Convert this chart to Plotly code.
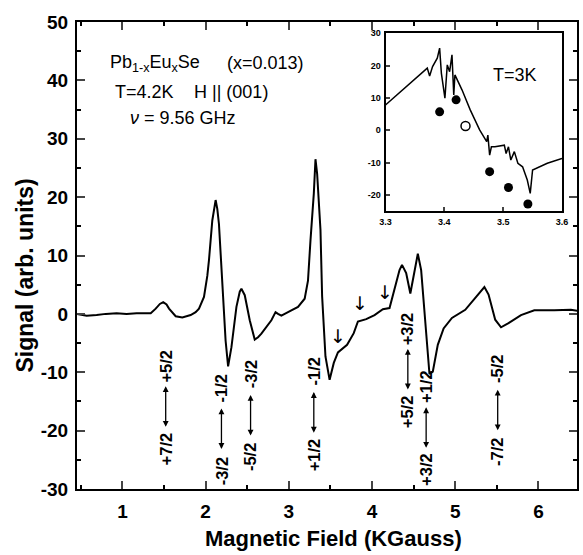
import plotly.graph_objects as go

# Main EPR spectrum (field in kG, signal arb. units)
field = [0.45, 0.57, 0.69, 0.80, 0.93, 1.05, 1.17, 1.34, 1.40, 1.45, 1.49, 1.53, 1.56, 1.60,
         1.64, 1.72, 1.82, 1.88, 1.92, 1.98, 2.02, 2.04, 2.08, 2.12, 2.14, 2.16, 2.20, 2.24,
         2.27, 2.31, 2.37, 2.41, 2.43, 2.47, 2.53, 2.59, 2.63, 2.67, 2.79, 2.84, 2.87, 2.91,
         2.99, 3.11, 3.19, 3.23, 3.26, 3.30, 3.32, 3.34, 3.38, 3.40, 3.44, 3.49, 3.54, 3.59,
         3.70, 3.78, 3.83, 3.93, 4.03, 4.13, 4.21, 4.27, 4.33, 4.36, 4.41, 4.46, 4.51, 4.55,
         4.59, 4.63, 4.67, 4.69, 4.73, 4.79, 4.86, 4.96, 5.12, 5.24, 5.35, 5.40, 5.48, 5.55,
         5.64, 5.79, 5.95, 6.19, 6.39, 6.47]
signal = [0.0, -0.3, -0.2, 0.0, 0.1, 0.0, 0.1, 0.1, 0.9, 1.7, 2.0, 1.6, 0.9, 0.2,
          -0.4, -0.6, -0.2, 0.3, 0.9, 2.9, 6.5, 9.2, 16.0, 19.5, 18.0, 15.4, 5.7, -4.6,
          -9.0, -5.7, 1.2, 3.8, 4.3, 3.2, -1.1, -4.4, -4.0, -3.4, -1.1, 0.3, 0.0, -0.3,
          0.3, 1.2, 2.6, 5.7, 12.6, 20.6, 26.5, 24.0, 14.4, 3.0, -7.3, -11.3, -8.4, -6.6,
          -5.3, -3.3, -1.3, -0.9, -0.2, 0.8, 1.0, 4.1, 7.5, 8.4, 7.0, 3.5, 7.0, 10.3,
          7.5, 0.1, -7.3, -10.3, -9.9, -5.3, -2.5, -0.7, 0.7, 2.7, 4.6, 3.3, -1.0, -2.3,
          -1.6, -0.2, 0.6, 0.6, 0.7, 0.5]

# Inset (T=3K) curve
inset_field = [3.300, 3.371, 3.375, 3.380, 3.388, 3.392, 3.395, 3.401, 3.405, 3.409, 3.413,
               3.416, 3.418, 3.430, 3.444, 3.460, 3.472, 3.474, 3.477, 3.480, 3.486, 3.502,
               3.505, 3.509, 3.513, 3.519, 3.525, 3.533, 3.541, 3.546, 3.550, 3.575, 3.600]
inset_signal = [7.8, 19.2, 16.8, 19.7, 22.3, 25.4, 17.6, 9.9, 20.2, 18.1, 23.3,
                10.9, 17.1, 12.5, 6.3, 0.1, -3.5, -1.5, -7.7, -5.1, -5.1, -4.6,
                -7.2, -5.1, -9.2, -6.6, -10.2, -11.3, -15.4, -19.5, -12.3, -10.2, -8.7]
filled_x = [3.392, 3.420, 3.477, 3.509, 3.542]
filled_y = [5.7, 9.4, -12.8, -17.7, -22.8]
open_x = [3.436]
open_y = [1.3]

# Transition labels (centre field, centre signal level, lower / upper level)
trans_x = [1.52, 2.19, 2.54, 3.30, 4.43, 4.65, 5.51]
trans_y = [-16.0, -19.8, -17.5, -17.0, -9.6, -19.6, -16.6]
trans_lo = ["+7/2", "-3/2", "-5/2", "+1/2", "+5/2", "+3/2", "-7/2"]
trans_hi = ["+5/2", "-1/2", "-3/2", "-1/2", "+3/2", "+1/2", "-5/2"]

# Small down arrows
arrow_x = [3.59, 3.85, 4.15]
arrow_y = [-3.8, 1.8, 3.7]

xticks = [1, 2, 3, 4, 5, 6]
yticks = [-30, -20, -10, 0, 10, 20, 30, 40, 50]
ytick_text = ["-30", "-20", "-10", "0", "10", "20", "30", "40", "50"]
inset_xticks = [3.3, 3.4, 3.5, 3.6]
inset_xtick_text = ["3.3", "3.4", "3.5", "3.6"]
inset_yticks = [-20, -10, 0, 10, 20, 30]
inset_ytick_text = ["-20", "-10", "0", "10", "20", "30"]

FONT = "Liberation Sans, Arial, Helvetica, sans-serif"
HALF_ARROW = 3.6   # half length of double arrow, in signal units
TEXT_OFF = 7.1     # offset of level labels from the centre, in signal units

fig = go.Figure()
fig.add_trace(go.Scatter(x=field, y=signal, mode="lines",
                         line=dict(color="black", width=2), showlegend=False))
fig.add_trace(go.Scatter(x=inset_field, y=inset_signal, mode="lines", xaxis="x2", yaxis="y2",
                         line=dict(color="black", width=1.5), showlegend=False))
fig.add_trace(go.Scatter(x=filled_x, y=filled_y, mode="markers", xaxis="x2", yaxis="y2",
                         marker=dict(color="black", size=9), showlegend=False))
fig.add_trace(go.Scatter(x=open_x, y=open_y, mode="markers", xaxis="x2", yaxis="y2",
                         marker=dict(color="white", size=9, line=dict(color="black", width=1.5)),
                         showlegend=False))

lab_font = dict(family=FONT, size=16.5, color="black", weight="bold")
annotations = []
for x, y, lo, hi in zip(trans_x, trans_y, trans_lo, trans_hi):
    annotations.append(dict(x=x, y=y + HALF_ARROW, xref="x", yref="y",
                            ax=x, ay=y - HALF_ARROW, axref="x", ayref="y",
                            text="", showarrow=True, arrowside="end+start",
                            arrowhead=2, arrowsize=0.9, arrowwidth=1.3, arrowcolor="black",
                            standoff=0, startstandoff=0))
    annotations.append(dict(x=x, y=y - TEXT_OFF, xref="x", yref="y", showarrow=False,
                            textangle=-90, text=lo, font=lab_font))
    annotations.append(dict(x=x, y=y + TEXT_OFF, xref="x", yref="y", showarrow=False,
                            textangle=-90, text=hi, font=lab_font))
for x, y in zip(arrow_x, arrow_y):
    annotations.append(dict(x=x, y=y, xref="x", yref="y", showarrow=False, text="\u2193",
                            font=dict(family="DejaVu Sans", size=19, color="black")))

txt_font = dict(family=FONT, size=18, color="black")
def note(x, y, text, **kw):
    d = dict(x=x, y=y, xref="paper", yref="paper", xanchor="left", yanchor="middle",
             showarrow=False, text=text, font=txt_font)
    d.update(kw)
    return d

annotations += [
    note(0.061, 0.912, "Pb<sub>1-x</sub>Eu<sub>x</sub>Se"),
    note(0.296, 0.912, "(x=0.013)"),
    note(0.071, 0.850, "T=4.2K"),
    note(0.229, 0.850, "H || (001)"),
    note(0.101, 0.794, "<i>\u03bd</i> = 9.56 GHz"),
    note(0.875, 0.886, "T=3K", xanchor="center"),
    dict(x=-0.103, y=0.456, xref="paper", yref="paper", xanchor="center", yanchor="middle",
         showarrow=False, text="Signal (arb. units)", textangle=-90,
         font=dict(family=FONT, size=23, color="black", weight="bold")),
    dict(x=0.512, y=-0.105, xref="paper", yref="paper", xanchor="center", yanchor="middle",
         showarrow=False, text="Magnetic Field (KGauss)",
         font=dict(family=FONT, size=22, color="black", weight="bold")),
]

fig.update_layout(
    width=583, height=555,
    margin=dict(l=77, r=0, t=22, b=66),
    paper_bgcolor="white", plot_bgcolor="white",
    showlegend=False,
    xaxis=dict(range=[0.454, 6.463], tickvals=xticks, ticks="inside", ticklen=8, tickwidth=2,
               showline=True, linecolor="black", linewidth=2, mirror="ticks", showgrid=False,
               zeroline=False, tickfont=dict(family=FONT, size=19, color="black", weight="bold"),
               minor=dict(dtick=0.5, tick0=0.5, ticks="inside", ticklen=4, tickwidth=1.5,
                          tickcolor="black", showgrid=False),
               ticklabelstandoff=4),
    yaxis=dict(range=[-30, 50], tickvals=yticks, ticktext=ytick_text, ticks="inside",
               ticklen=8, tickwidth=2,
               showline=True, linecolor="black", linewidth=2, mirror="ticks", showgrid=False,
               zeroline=False, tickfont=dict(family=FONT, size=19, color="black", weight="bold"),
               minor=dict(dtick=5, tick0=0, ticks="inside", ticklen=4, tickwidth=1.5,
                          tickcolor="black", showgrid=False),
               ticklabelstandoff=3),
    xaxis2=dict(domain=[0.617, 0.970], anchor="y2", range=[3.3, 3.6], tickvals=inset_xticks,
                ticktext=inset_xtick_text, ticks="inside", ticklen=4, tickwidth=1.5,
                showline=True, linecolor="black", linewidth=2, mirror=True, showgrid=False,
                zeroline=False, tickfont=dict(family=FONT, size=9, color="black", weight="bold"),
                ticklabelstandoff=1),
    yaxis2=dict(domain=[0.595, 0.976], anchor="x2", range=[-25, 30], tickvals=inset_yticks,
                ticktext=inset_ytick_text, ticks="inside", ticklen=4, tickwidth=1.5,
                showline=True, linecolor="black", linewidth=2, mirror=True, showgrid=False,
                zeroline=False, tickfont=dict(family=FONT, size=9, color="black", weight="bold"),
                ticklabelstandoff=1),
    annotations=annotations,
)

fig.write_html("out.html", config={"displayModeBar": False},
               post_script="document.body.style.margin='0';")
